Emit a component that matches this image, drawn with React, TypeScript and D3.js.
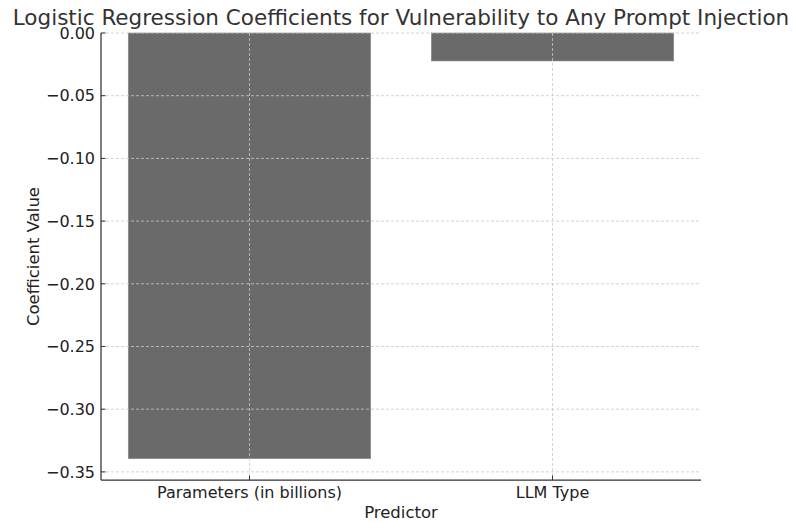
import React from "react";
import * as d3 from "d3";

const categories = ["Parameters (in billions)", "LLM Type"];
const values = [-0.3395, -0.0223];
const yTicks = [0, -0.05, -0.1, -0.15, -0.2, -0.25, -0.3, -0.35];
const title = "Logistic Regression Coefficients for Vulnerability to Any Prompt Injection";
const xLabel = "Predictor";
const yLabel = "Coefficient Value";

const W = 793;
const H = 522;
const M = { left: 101, right: 701, top: 33, bottom: 480 };
const FONT = "DejaVu Sans, sans-serif";

export default function App() {
  const x = d3.scaleLinear().domain([-0.49, 1.49]).range([M.left, M.right]);
  const yMin = d3.min(values)! * 1.05;
  const y = d3.scaleLinear().domain([yMin, 0]).range([M.bottom, M.top]);
  const barW = x(0.8) - x(0);
  const fmt = (v: number) => (v < 0 ? "\u2212" : "") + Math.abs(v).toFixed(2);

  return (
    <svg width={W} height={H} style={{ position: "absolute", left: 0, top: 0, background: "#fff" }}>
      {values.map((v, i) => (
        <rect
          key={i}
          x={x(i) - barW / 2}
          y={y(0)}
          width={barW}
          height={y(v) - y(0)}
          fill="#6a6a6a"
          stroke="#8a8a8a"
          strokeWidth={0.6}
        />
      ))}
      {yTicks.map((t) => (
        <line key={"gy" + t} x1={M.left} x2={M.right} y1={y(t)} y2={y(t)} stroke="#c8c8c8" strokeWidth={0.8} strokeDasharray="3,2" />
      ))}
      {categories.map((c, i) => (
        <line key={"gx" + i} x1={x(i)} x2={x(i)} y1={M.top} y2={M.bottom} stroke="#c8c8c8" strokeWidth={0.8} strokeDasharray="3,2" />
      ))}
      <line x1={M.left} x2={M.left} y1={M.top} y2={M.bottom} stroke="#333" strokeWidth={1.25} />
      <line x1={M.left} x2={M.right} y1={M.bottom} y2={M.bottom} stroke="#333" strokeWidth={1.25} />
      {yTicks.map((t) => (
        <g key={"ty" + t}>
          <line x1={M.left} x2={M.left + 4.5} y1={y(t)} y2={y(t)} stroke="#333" strokeWidth={1} />
          <text x={M.left - 6} y={y(t)} dy="0.36em" textAnchor="end" fontFamily={FONT} fontSize={16} fill="#222">
            {fmt(t)}
          </text>
        </g>
      ))}
      {categories.map((c, i) => (
        <g key={"tx" + i}>
          <line x1={x(i)} x2={x(i)} y1={M.bottom} y2={M.bottom - 4.5} stroke="#333" strokeWidth={1} />
          <text x={x(i)} y={M.bottom + 18} textAnchor="middle" fontFamily={FONT} fontSize={16} fill="#222">
            {c}
          </text>
        </g>
      ))}
      <text x={(M.left + M.right) / 2} y={518} textAnchor="middle" fontFamily={FONT} fontSize={16.5} fill="#222">
        {xLabel}
      </text>
      <text
        transform={`translate(39,${(M.top + M.bottom) / 2}) rotate(-90)`}
        textAnchor="middle"
        fontFamily={FONT}
        fontSize={16.5}
        fill="#222"
      >
        {yLabel}
      </text>
      <text x={(M.left + M.right) / 2} y={25} textAnchor="middle" fontFamily={FONT} fontSize={21.5} fill="#333">
        {title}
      </text>
    </svg>
  );
}
